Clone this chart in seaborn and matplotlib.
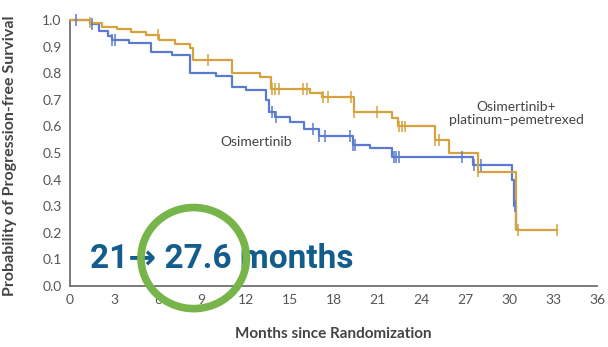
import numpy as np
import pandas as pd
import matplotlib.pyplot as plt
from matplotlib.patches import Ellipse
import seaborn as sns


# =========================================================
# DATA
# =========================================================

osi_months = [0, 1.4, 2.0, 2.6, 2.9, 4.0, 5.5, 7.0, 8.2, 10.0, 11.1, 12.0,
              13.4, 13.6, 14.0, 15.0, 16.0, 17.0, 19.3, 20.5, 22.0, 27.5,
              30.2, 30.3, 30.5, 30.6]
osi_surv = [1.0, 0.985, 0.96, 0.94, 0.925, 0.915, 0.88, 0.87, 0.80, 0.79,
            0.75, 0.735, 0.70, 0.655, 0.635, 0.615, 0.59, 0.565, 0.53, 0.52,
            0.485, 0.455, 0.40, 0.30, 0.215, 0.215]

combo_months = [0, 1.4, 2.2, 3.2, 4.2, 5.2, 6.1, 7.2, 8.2, 8.4, 11.1, 13.0,
                13.7, 16.4, 17.2, 19.4, 22.0, 22.4, 24.9, 25.9, 27.9, 30.5,
                33.3]
combo_surv = [1.0, 0.99, 0.975, 0.965, 0.955, 0.945, 0.925, 0.91, 0.895,
              0.85, 0.80, 0.785, 0.74, 0.725, 0.71, 0.655, 0.63, 0.60, 0.55,
              0.50, 0.43, 0.21, 0.21]

osi_censor = [0.4, 1.5, 2.9, 3.1, 13.8, 14.1, 16.6, 17.0, 17.4, 19.1, 19.3,
              19.5, 22.1, 22.3, 22.5, 26.8, 27.6, 28.1, 30.4]
combo_censor = [1.4, 6.0, 9.4, 13.8, 14.0, 14.3, 15.9, 16.2, 17.3, 17.6,
                19.2, 19.4, 21.0, 22.5, 22.7, 22.9, 24.9, 25.2, 27.9, 30.6,
                33.3]

arm_names = ['Osimertinib', 'Osimertinib+\nplatinum\u2013pemetrexed']
arm_colors = ['#5b7bd0', '#d6a23f']

x_ticks = list(range(0, 37, 3))
y_ticks = [i / 10 for i in range(11)]

headline = '21\u2192 27.6 months'


# =========================================================
# BUILD TABLES
# =========================================================

def step_value(months, surv, t):
    idx = np.searchsorted(months, t, side='right') - 1
    return surv[idx]


curves = pd.concat([
    pd.DataFrame({'month': osi_months, 'surv': osi_surv, 'arm': arm_names[0]}),
    pd.DataFrame({'month': combo_months, 'surv': combo_surv, 'arm': arm_names[1]}),
])

censors = pd.concat([
    pd.DataFrame({'month': osi_censor,
                  'surv': [step_value(osi_months, osi_surv, t) for t in osi_censor],
                  'arm': arm_names[0]}),
    pd.DataFrame({'month': combo_censor,
                  'surv': [step_value(combo_months, combo_surv, t) for t in combo_censor],
                  'arm': arm_names[1]}),
])

palette = dict(zip(arm_names, arm_colors))


# =========================================================
# PLOT
# =========================================================

sns.set_style('white')
plt.rcParams['font.family'] = ['Lato', 'DejaVu Sans']

fig = plt.figure(figsize=(6.08, 3.47), dpi=100)
ax = fig.add_axes([70 / 608, 1 - 286 / 347, 527 / 608, 266 / 347])

sns.lineplot(data=curves, x='month', y='surv', hue='arm', palette=palette,
             estimator=None, drawstyle='steps-post', linewidth=1.6,
             legend=False, ax=ax, clip_on=False, zorder=3)

sns.scatterplot(data=censors, x='month', y='surv', hue='arm', palette=palette,
                marker='|', s=70, linewidth=1.1, legend=False, ax=ax,
                clip_on=False, zorder=3)

ax.set_xlim(0, 36)
ax.set_ylim(0, 1.0)
ax.set_xticks(x_ticks)
ax.set_yticks(y_ticks)
ax.set_yticklabels([f'{v:.1f}' for v in y_ticks])

for side in ['top', 'right']:
    ax.spines[side].set_visible(False)
for side in ['left', 'bottom']:
    ax.spines[side].set_color('#6f6f6f')
    ax.spines[side].set_linewidth(1.3)

ax.tick_params(axis='both', direction='out', length=4, width=1.1,
               color='#6f6f6f', labelcolor='#555555', labelsize=10, pad=2)

ax.set_xlabel('Months since Randomization', fontsize=11,
              fontweight='bold', color='#444444')
ax.set_ylabel('Probability of Progression-free Survival', fontsize=11.5,
              fontweight='bold', color='#444444')
ax.xaxis.set_label_coords(0.499, -0.155)
ax.yaxis.set_label_coords(-0.1, 0.49)

ax.text(12.7, 0.54, arm_names[0], ha='center', va='center',
        fontsize=10, color='#444444')
ax.text(30.5, 0.65, arm_names[1], ha='center', va='center',
        fontsize=10, color='#444444', linespacing=1.1)

ax.text(1.35, 0.068, headline, ha='left', va='baseline', fontsize=24,
        fontweight='bold', color='#135d8d',
        family=['Roboto', 'DejaVu Sans'], zorder=4)

ring = Ellipse((8.45, 0.105), width=7.2, height=0.38, fill=False,
               edgecolor='#77b54a', linewidth=5.5, clip_on=False, zorder=5)
ax.add_patch(ring)

plt.savefig('out.png', dpi=100)
